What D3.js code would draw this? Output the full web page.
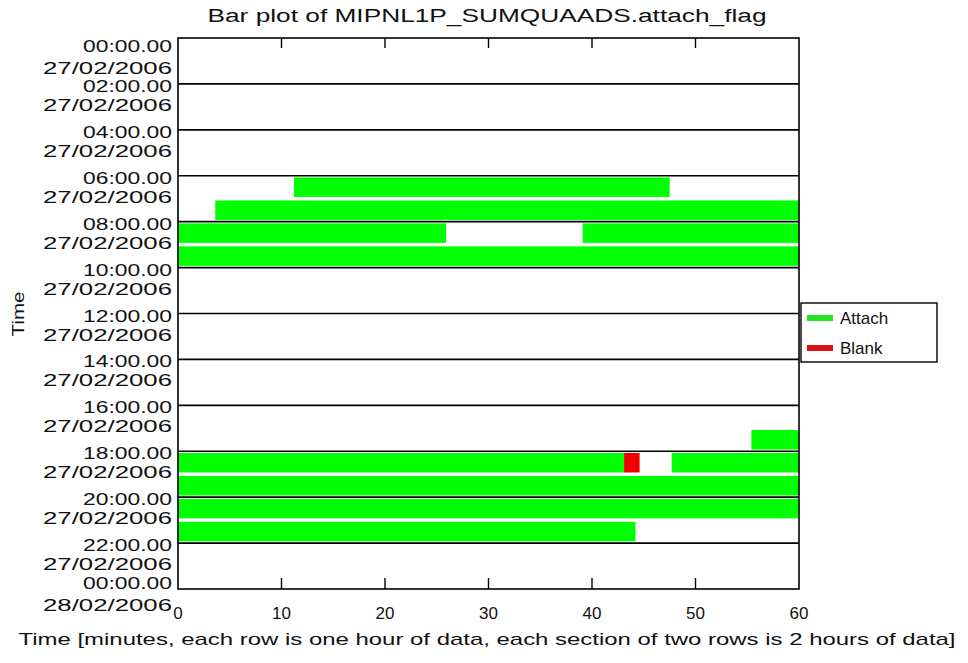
<!DOCTYPE html>
<html>
<head>
<meta charset="utf-8">
<script src="https://cdn.jsdelivr.net/npm/d3@7"></script>
<style>
  html, body { margin: 0; padding: 0; background: #fff; }
  svg { display: block; }
  text { font-family: "Liberation Sans", "DejaVu Sans", sans-serif; fill: #111; }
</style>
</head>
<body>
<svg id="chart" width="968" height="663"></svg>
<script>
// ---------- data ----------
const titleText = "Bar plot of MIPNL1P_SUMQUAADS.attach_flag";
const xTitle = "Time [minutes, each row is one hour of data, each section of two rows is 2 hours of data]";
const yTitle = "Time";

const xTicks = [0, 10, 20, 30, 40, 50, 60];

const labelHours = [0, 2, 4, 6, 8, 10, 12, 14, 16, 18, 20, 22, 24];
const labelTimes = ["00:00.00", "02:00.00", "04:00.00", "06:00.00", "08:00.00", "10:00.00",
                    "12:00.00", "14:00.00", "16:00.00", "18:00.00", "20:00.00", "22:00.00", "00:00.00"];
const labelDates = ["27/02/2006", "27/02/2006", "27/02/2006", "27/02/2006", "27/02/2006", "27/02/2006",
                    "27/02/2006", "27/02/2006", "27/02/2006", "27/02/2006", "27/02/2006", "27/02/2006", "28/02/2006"];

// hour rows (0 = 00:00-01:00 ... 23 = 23:00-24:00), segments in minutes
const attachRow   = [6,    7,   8,    8,    9,  17,   18,   18,   19, 20, 21];
const attachStart = [11.2, 3.6, 0,    39.1, 0,  55.4, 0,    47.7, 0,  0,  0];
const attachEnd   = [47.5, 60,  25.9, 60,   60, 60,   43.1, 60,   60, 60, 44.2];

const blankRow   = [18];
const blankStart = [43.1];
const blankEnd   = [44.6];

const seriesNames = ["Attach", "Blank"];
const seriesColors = ["#00ff00", "#ee0000"];
const legendColors = ["#22e622", "#dd1111"];

// ---------- layout ----------
const svg = d3.select("#chart");
const L = 178, R = 799, T = 38, B = 589;

const x = d3.scaleLinear().domain([0, 60]).range([L, R]);
const yH = d3.scaleLinear().domain([0, 24]).range([T, B]);
const yRow = d3.scaleBand().domain(d3.range(24)).range([T, B]).paddingInner(0.15).paddingOuter(0.075);

// bars
const attach = attachRow.map((r, i) => ({ r, s: attachStart[i], e: attachEnd[i] }));
const blank = blankRow.map((r, i) => ({ r, s: blankStart[i], e: blankEnd[i] }));

svg.append("g").selectAll("rect").data(attach).join("rect")
  .attr("x", d => x(d.s)).attr("width", d => x(d.e) - x(d.s))
  .attr("y", d => yRow(d.r)).attr("height", yRow.bandwidth())
  .attr("fill", seriesColors[0]);

svg.append("g").selectAll("rect").data(blank).join("rect")
  .attr("x", d => x(d.s)).attr("width", d => x(d.e) - x(d.s))
  .attr("y", d => yRow(d.r)).attr("height", yRow.bandwidth())
  .attr("fill", seriesColors[1]);

// section gridlines every 2 hours
svg.append("g").selectAll("line").data(labelHours.slice(1, -1)).join("line")
  .attr("x1", L).attr("x2", R)
  .attr("y1", d => yH(d)).attr("y2", d => yH(d))
  .attr("stroke", "#000").attr("stroke-width", 1.6);

// frame
svg.append("rect").attr("x", L).attr("y", T).attr("width", R - L).attr("height", B - T)
  .attr("fill", "none").attr("stroke", "#000").attr("stroke-width", 1.6);

// x ticks top and bottom (inner)
const inner = xTicks.slice(1, -1);
svg.append("g").selectAll("line").data(inner).join("line")
  .attr("x1", d => x(d)).attr("x2", d => x(d)).attr("y1", T).attr("y2", T + 10)
  .attr("stroke", "#000").attr("stroke-width", 1.4);
svg.append("g").selectAll("line").data(inner).join("line")
  .attr("x1", d => x(d)).attr("x2", d => x(d)).attr("y1", B).attr("y2", B - 11)
  .attr("stroke", "#000").attr("stroke-width", 1.4);

// x tick labels
svg.append("g").selectAll("text").data(xTicks).join("text")
  .attr("x", d => x(d)).attr("y", 613)
  .attr("text-anchor", "middle").attr("dominant-baseline", "central")
  .attr("font-size", 17)
  .text(d => d);

// y labels (two lines per gridline)
const n = labelHours.length;
const lab = svg.append("g");
labelHours.forEach((h, i) => {
  const g = yH(h);
  let tY = g + 2.5, dY = g + 21.5;
  if (i === 0) { tY = g + 8; dY = g + 30; }
  if (i === n - 1) { tY = g - 6; dY = g + 16.5; }
  lab.append("text").attr("x", 172).attr("y", tY)
    .attr("text-anchor", "end").attr("dominant-baseline", "central")
    .attr("font-size", 17).attr("textLength", 89).attr("lengthAdjust", "spacingAndGlyphs")
    .text(labelTimes[i]);
  lab.append("text").attr("x", 172).attr("y", dY)
    .attr("text-anchor", "end").attr("dominant-baseline", "central")
    .attr("font-size", 17).attr("textLength", 129).attr("lengthAdjust", "spacingAndGlyphs")
    .text(labelDates[i]);
});

// title
svg.append("text").attr("x", 487).attr("y", 16)
  .attr("text-anchor", "middle").attr("dominant-baseline", "central")
  .attr("font-size", 18).attr("textLength", 559).attr("lengthAdjust", "spacingAndGlyphs")
  .text(titleText);

// x title
svg.append("text").attr("x", 487).attr("y", 639)
  .attr("text-anchor", "middle").attr("dominant-baseline", "central")
  .attr("font-size", 17).attr("textLength", 937).attr("lengthAdjust", "spacingAndGlyphs")
  .text(xTitle);

// y title
svg.append("text").attr("transform", "translate(18,314) rotate(-90)")
  .attr("text-anchor", "middle").attr("dominant-baseline", "central")
  .attr("font-size", 17).attr("textLength", 45).attr("lengthAdjust", "spacingAndGlyphs")
  .text(yTitle);

// legend
const lg = svg.append("g");
lg.append("rect").attr("x", 801).attr("y", 303).attr("width", 136).attr("height", 59)
  .attr("fill", "#fff").attr("stroke", "#000").attr("stroke-width", 1.4);
seriesNames.forEach((name, i) => {
  const cy = 318 + i * 30;
  lg.append("rect").attr("x", 807).attr("y", cy - 3).attr("width", 26).attr("height", 6)
    .attr("fill", legendColors[i]);
  lg.append("text").attr("x", 840).attr("y", cy)
    .attr("dominant-baseline", "central").attr("font-size", 17)
    .text(name);
});
</script>
</body>
</html>
